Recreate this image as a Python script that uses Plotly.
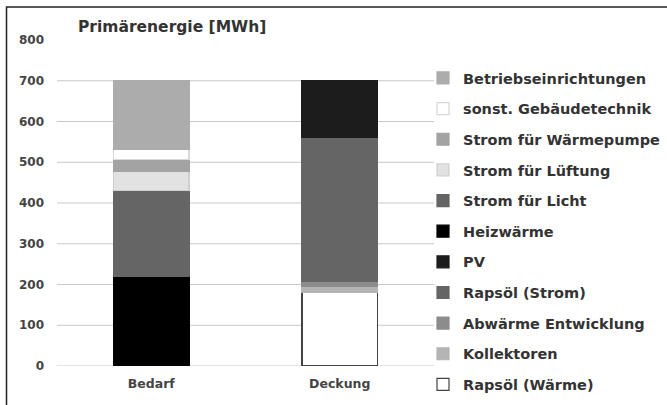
import plotly.graph_objects as go

categories = ["Bedarf", "Deckung"]

# series listed bottom-up in the stack (legend shows them reversed)
series_names = [
    "Rapsöl (Wärme)", "Kollektoren", "Abwärme Entwicklung", "Rapsöl (Strom)", "PV",
    "Heizwärme", "Strom für Licht", "Strom für Lüftung", "Strom für Wärmepumpe",
    "sonst. Gebäudetechnik", "Betriebseinrichtungen",
]
bedarf_values = [None, None, None, None, None, 220, 210, 47, 30, 25, 168]
deckung_values = [180, 15, 12, 353, 140, None, None, None, None, None, None]
series_colors = [
    "#ffffff", "#b4b4b4", "#8c8c8c", "#656565", "#1c1c1c",
    "#000000", "#656565", "#e2e2e2", "#a3a3a3", "#ffffff", "#acacac",
]
series_lines = [
    "#444444", "#b4b4b4", "#8c8c8c", "#656565", "#1c1c1c",
    "#000000", "#656565", "#d0d0d0", "#a3a3a3", "#d8d8d8", "#acacac",
]

y_ticks = [0, 100, 200, 300, 400, 500, 600, 700, 800]
grid_ticks = [0, 100, 200, 300, 400, 500, 600, 700]

fig = go.Figure()
n = len(series_names)
for i, name in enumerate(series_names):
    fig.add_trace(go.Bar(
        x=categories,
        y=[bedarf_values[i], deckung_values[i]],
        name=name,
        legendgroup=name,
        legendrank=n - i,
        marker=dict(color=series_colors[i],
                    line=dict(color=series_lines[i], width=1.2)),
        width=0.4,
    ))

L, R, T, B = 57, 233, 40, 39
W, H = 667, 405
pw, ph = W - L - R, H - T - B

FONT = "DejaVu Sans, Verdana, sans-serif"

shapes = []
for g in grid_ticks:
    shapes.append(dict(type="line", xref="paper", yref="y", x0=0, x1=1, y0=g, y1=g,
                       line=dict(color="#c8c8c8", width=1), layer="below"))
# outer frame (only top and left visible)
shapes.append(dict(type="rect", xref="paper", yref="paper",
                   x0=(6.5 - L) / pw, x1=(720 - L) / pw,
                   y0=(H - B - 430) / ph, y1=(H - B - 7) / ph,
                   line=dict(color="#222222", width=1.5), layer="above"))

fig.update_layout(
    width=W, height=H,
    barmode="stack",
    margin=dict(l=L, r=R, t=T, b=B, autoexpand=False),
    paper_bgcolor="white", plot_bgcolor="white",
    font=dict(family=FONT, color="#333333", size=12, weight="bold"),
    showlegend=True,
    legend=dict(x=(423 - L) / pw, y=(H - B - 62) / ph, xanchor="left", yanchor="top",
                traceorder="grouped", maxheight=400,
                font=dict(family=FONT, size=14.5, color="#333333", weight="bold"),
                tracegroupgap=8.8, itemwidth=30, bgcolor="rgba(0,0,0,0)"),
    xaxis=dict(showline=False, showgrid=False, ticks="", ticklabelstandoff=8,
               tickfont=dict(family=FONT, size=12.5, color="#444444")),
    yaxis=dict(range=[0, 800], tickvals=y_ticks, showgrid=False, zeroline=False,
               showline=False, ticks="", ticklabelstandoff=12,
               tickfont=dict(family=FONT, size=12, color="#444444")),
    shapes=shapes,
    annotations=[dict(text="Primärenergie [MWh]", xref="paper", yref="paper",
                      x=(76 - L) / pw, y=(H - B - 27) / ph, xanchor="left", yanchor="middle",
                      showarrow=False, font=dict(family=FONT, size=15.5, color="#333333", weight="bold"))],
)

fig.write_html("out.html", config={"displayModeBar": False},
               post_script="document.body.style.margin='0';")
